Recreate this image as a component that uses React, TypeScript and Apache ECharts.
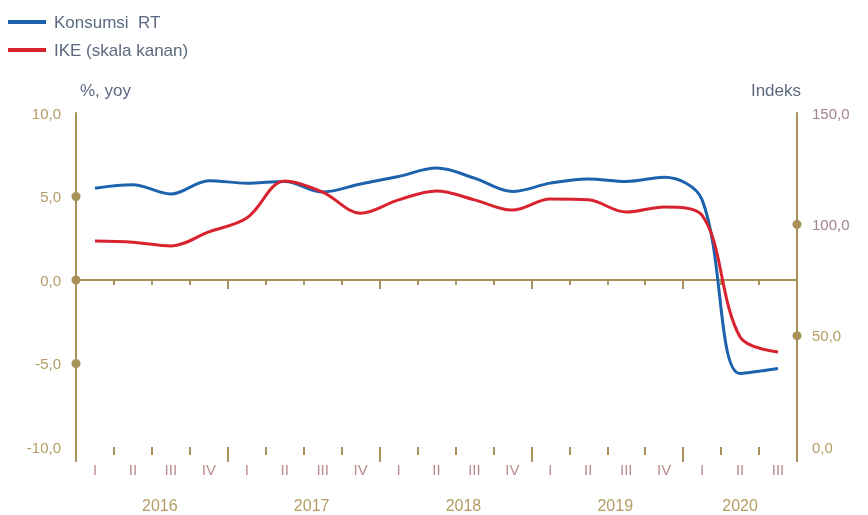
import React, { useEffect, useRef } from "react";
import * as echarts from "echarts";

const quarters = ["I", "II", "III", "IV", "I", "II", "III", "IV", "I", "II", "III", "IV", "I", "II", "III", "IV", "I", "II", "III"];
const years = ["2016", "2017", "2018", "2019", "2020"];
const consumption = [5.5, 5.7, 5.15, 5.95, 5.8, 5.9, 5.27, 5.75, 6.2, 6.7, 6.1, 5.3, 5.8, 6.05, 5.9, 6.15, 4.8, -5.6, -5.3];
const ike = [92.5, 92, 90.3, 96.6, 102.8, 119.5, 114.5, 105, 111, 115, 111, 106.4, 111.4, 111, 105.5, 107.8, 104, 49.4, 42.7];
const leftTicks = [5, 0, -5];
const rightTicks = [100, 50];

const AXIS = "#a8925a";
const TAN = "#b59c62";
const MAUVE = "#a5828a";
const QCOL = "#b98c8c";
const TXT = "#5b6a80";
const BLUE = "#1d62ac";
const RED = "#d8232e";
const FONT = "Liberation Sans, Arial, sans-serif";

const GL = 76;
const GR = 71;
const GT = 113;
const GB = 68;

const fmt = (v: number) => v.toFixed(1).replace(".", ",");

export default function App() {
  const ref = useRef<HTMLDivElement>(null);
  useEffect(() => {
    const chart = echarts.init(ref.current!, null, { renderer: "svg" });
    const baseX = {
      type: "category",
      data: quarters,
      boundaryGap: true,
      gridIndex: 0,
      position: "bottom",
      splitLine: { show: false },
    };
    const option: any = {
      animation: false,
      textStyle: { fontFamily: FONT },
      legend: {
        orient: "vertical",
        left: 8,
        top: 13,
        padding: 0,
        itemWidth: 38,
        itemHeight: 4,
        itemGap: 10,
        icon: "rect",
        textStyle: { color: TXT, fontSize: 17, lineHeight: 18, fontFamily: FONT, padding: [0, 0, 0, 3] },
        data: ["Konsumsi  RT", "IKE (skala kanan)"],
      },
      grid: { left: GL, right: GR, top: GT, bottom: GB, containLabel: false },
      xAxis: [
        {
          ...baseX,
          axisLine: { show: true, onZero: true, onZeroAxisIndex: 0, lineStyle: { color: AXIS, width: 2 } },
          axisTick: { show: true, interval: 0, length: 5, lineStyle: { color: AXIS, width: 2 } },
          axisLabel: { show: false },
        },
        {
          ...baseX,
          axisLine: { show: false, onZero: true, onZeroAxisIndex: 0 },
          axisTick: { show: true, interval: (i: number) => i % 4 === 0, length: 9, lineStyle: { color: AXIS, width: 2 } },
          axisLabel: { show: false },
        },
        {
          ...baseX,
          axisLine: { show: false, onZero: false },
          axisTick: { show: true, interval: 0, length: 8, lineStyle: { color: AXIS, width: 2 } },
          axisLabel: { show: true, interval: 0, margin: 15, color: QCOL, fontSize: 15, fontFamily: FONT },
        },
        {
          ...baseX,
          axisLine: { show: false, onZero: false },
          axisTick: { show: true, interval: (i: number) => i % 4 === 0, length: 15, lineStyle: { color: AXIS, width: 2 } },
          axisLabel: {
            show: true,
            interval: 0,
            margin: 50,
            fontSize: 16,
            color: TAN,
            fontFamily: FONT,
            formatter: (_v: string, i: number) => {
              const y = years[Math.floor(i / 4)];
              if (i < 16 && i % 4 === 2) return "{a|" + y + "}";
              if (i === 17) return "{b|" + y + "}";
              return "";
            },
            rich: {
              a: { fontSize: 16, color: TAN, padding: [0, 22, 0, 0], fontFamily: FONT },
              b: { fontSize: 16, color: TAN, fontFamily: FONT },
            },
          },
        },
      ],
      yAxis: [
        {
          type: "value",
          min: -10,
          max: 10,
          interval: 5,
          position: "left",
          name: "%, yoy",
          nameLocation: "end",
          nameGap: 14,
          nameTextStyle: { color: TXT, fontSize: 17, align: "left", padding: [0, 0, 0, 4], fontFamily: FONT },
          axisLine: { show: true, onZero: false, lineStyle: { color: AXIS, width: 2 } },
          axisTick: { show: false },
          splitLine: { show: false },
          axisLabel: { color: TAN, fontSize: 15, margin: 15, formatter: fmt, fontFamily: FONT },
        },
        {
          type: "value",
          min: 0,
          max: 150,
          interval: 50,
          position: "right",
          name: "Indeks",
          nameLocation: "end",
          nameGap: 14,
          nameTextStyle: { color: TXT, fontSize: 17, align: "right", padding: [0, -4, 0, 0], fontFamily: FONT },
          axisLine: { show: true, onZero: false, lineStyle: { color: AXIS, width: 2 } },
          axisTick: { show: false },
          splitLine: { show: false },
          axisLabel: {
            fontSize: 15,
            margin: 15,
            formatter: fmt,
            fontFamily: FONT,
            color: (v: any) => (Number(v) >= 100 ? MAUVE : TAN),
          },
        },
      ],
      series: [
        {
          name: "Konsumsi  RT",
          type: "line",
          xAxisIndex: 0,
          yAxisIndex: 0,
          data: consumption,
          smooth: 0.35,
          symbol: "none",
          lineStyle: { color: BLUE, width: 3 },
          itemStyle: { color: BLUE },
          z: 3,
        },
        {
          name: "IKE (skala kanan)",
          type: "line",
          xAxisIndex: 0,
          yAxisIndex: 1,
          data: ike,
          smooth: 0.35,
          symbol: "none",
          lineStyle: { color: RED, width: 3 },
          itemStyle: { color: RED },
          z: 4,
        },
      ],
    };
    chart.setOption(option);
    const rightX = 868 - GR;
    const dots: any[] = [];
    leftTicks.forEach((v) => {
      dots.push({
        type: "circle",
        shape: { cx: GL, cy: chart.convertToPixel({ yAxisIndex: 0 }, v) as number, r: 4.5 },
        style: { fill: AXIS },
        z: 20,
      });
    });
    rightTicks.forEach((v) => {
      dots.push({
        type: "circle",
        shape: { cx: rightX, cy: chart.convertToPixel({ yAxisIndex: 1 }, v) as number, r: 4.5 },
        style: { fill: AXIS },
        z: 20,
      });
    });
    chart.setOption({ graphic: dots });
    return () => chart.dispose();
  }, []);
  return <div ref={ref} style={{ position: "fixed", left: 0, top: 0, width: 868, height: 515 }} />;
}
